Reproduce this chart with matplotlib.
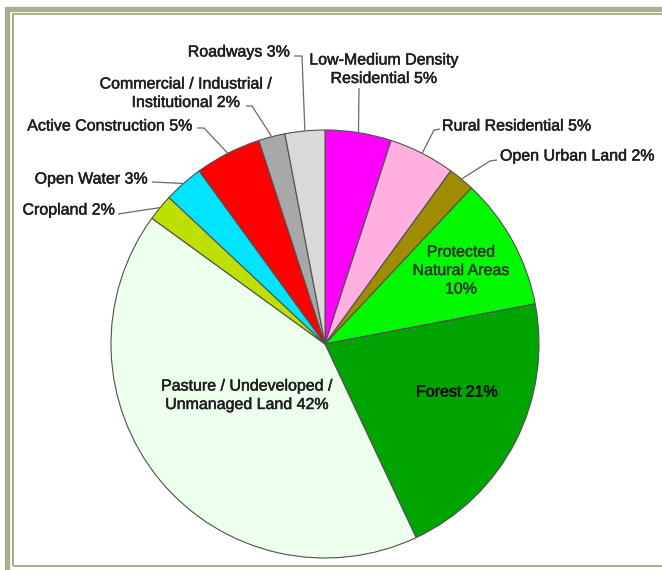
import matplotlib
matplotlib.use('Agg')
import matplotlib.pyplot as plt
from matplotlib.patches import Rectangle
import matplotlib.patheffects as pe
import numpy as np

# ---------------- data ----------------
categories = ["Low-Medium Density\nResidential", "Rural Residential", "Open Urban Land",
              "Protected\nNatural Areas\n", "Forest", "Pasture / Undeveloped /\nUnmanaged Land",
              "Cropland", "Open Water", "Active Construction",
              "Commercial / Industrial /\nInstitutional", "Roadways"]
percent = [5, 5, 2, 10, 21, 42, 2, 3, 5, 2, 3]
colors = ['#ff00ff', '#ffb0e0', '#a08c00', '#00f800', '#00a400', '#edffed',
          '#bde000', '#00e4ff', '#ff0000', '#a8a8a8', '#d9d9d9']

# ---------------- layout (pixel coordinates, y measured from top) ----------------
W, H = 662, 570
CX, CY, R = 325, 344, 214
FS = 11.5
LINE = 18.5
# (x, y of first line, ha, leader points before the wedge edge)
layout = [
    (384, 60, 'center', [(359, 88)]),
    (442, 126, 'left', [(440, 129), (434, 130)]),
    (500, 156, 'left', [(497, 160), (490, 161)]),
    (461, 252, 'center', None),
    (457, 392, 'center', None),
    (247, 386, 'center', None),
    (115, 210, 'right', [(118, 214)]),
    (148, 179, 'right', [(152, 182)]),
    (193, 126, 'right', [(197, 128), (204, 128)]),
    (186, 84, 'center', [(246, 106), (252, 106)]),
    (290, 52, 'right', [(294, 56), (302, 56)]),
]

fig = plt.figure(figsize=(W / 100, H / 100), dpi=100)
fig.patch.set_facecolor('white')
ax = fig.add_axes([0, 0, 1, 1])

wedges, _ = ax.pie(percent, colors=colors, startangle=90, counterclock=False,
                   center=(CX, H - CY), radius=R,
                   wedgeprops=dict(edgecolor='#505050', linewidth=0.8))
ax.set_xlim(0, W)
ax.set_ylim(0, H)
ax.set_aspect('equal')
ax.axis('off')

txt_color = '#1e1e1e'
for i, (w, name, p) in enumerate(zip(wedges, categories, percent)):
    sep = '' if name.endswith('\n') else ' '
    lines = (name + sep + f"{p}%").split('\n')
    x, y0, ha, leader = layout[i]
    col = txt_color
    effects = [pe.withStroke(linewidth=0.35, foreground=txt_color)]
    if i == 4:
        col = '#080808'
        effects = [pe.withStroke(linewidth=0.6, foreground='#1a3a1a')]
    elif i == 3:
        col = '#2a3a2a'
        effects = [pe.withStroke(linewidth=0.3, foreground='#2a3a2a')]
    for k, ln in enumerate(lines):
        t = ax.text(x, H - (y0 + k * LINE), ln, ha=ha, va='center', fontsize=FS,
                    family='Liberation Sans', color=col)
        t.set_path_effects(effects)
    if leader:
        mid = np.deg2rad((w.theta1 + w.theta2) / 2)
        ex = CX + R * np.cos(mid)
        ey = (H - CY) + R * np.sin(mid)
        xs = [pt[0] for pt in leader] + [ex]
        ys = [H - pt[1] for pt in leader] + [ey]
        ax.plot(xs, ys, color='#6a6a6a', lw=0.9, solid_capstyle='butt')

# ---------------- frame ----------------
fc = '#a8af8a'
ax.add_patch(Rectangle((6.7, -20), W + 50, H - 8.7 + 20, fill=False, edgecolor=fc,
                       lw=5.3 * 72 / 100, clip_on=False))
ax.add_patch(Rectangle((12.8, H - 566.2), W + 50, 566.2 - 14.2, fill=False, edgecolor=fc,
                       lw=2 * 72 / 100, clip_on=False))

fig.savefig('out.png', dpi=100, facecolor='white')
